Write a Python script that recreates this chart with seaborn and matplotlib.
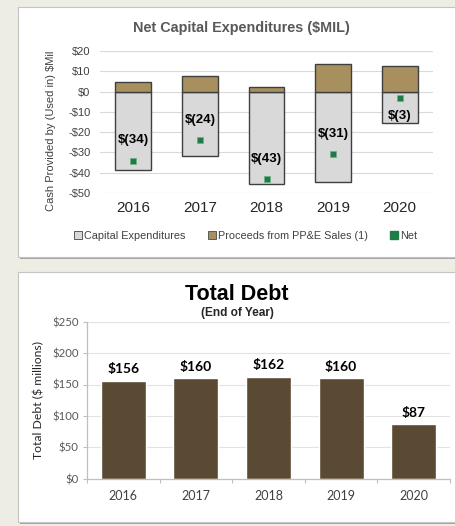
import matplotlib
matplotlib.use("Agg")
import matplotlib.pyplot as plt
from matplotlib.patches import Rectangle
from matplotlib.lines import Line2D
import seaborn as sns
import pandas as pd

# ---- data -------------------------------------------------------------
years = ["2016", "2017", "2018", "2019", "2020"]
capital_expenditures = [-38.5, -31.6, -45.4, -44.8, -15.4]
ppe_proceeds = [4.5, 7.6, 2.4, 13.8, 12.4]
net_capex = [-34, -24, -43, -31, -3]
capex_ticks = [20, 10, 0, -10, -20, -30, -40, -50]

total_debt = [156, 160, 162, 160, 87]
debt_ticks = [0, 50, 100, 150, 200, 250]

# ---- styling ----------------------------------------------------------
sns.set_style("white")
plt.rcParams["font.family"] = ["Liberation Sans", "DejaVu Sans"]
LATO = ["Lato", "DejaVu Sans"]

BG = "#EEEDE4"
CAPEX_FILL = "#D9D9D9"
PROCEEDS_FILL = "#A8905E"
EDGE = "#3F3F3F"
NET_GREEN = "#1E7D47"
DEBT_BROWN = "#5B4A33"
GRID = "#D9D9D9"

W, H = 455, 526
fig = plt.figure(figsize=(W / 100, H / 100), dpi=100, facecolor=BG)


def card(top_px, bottom_px):
    """White panel with a soft grey shadow, drawn in figure pixels."""
    x0 = 18 / W
    y0 = 1 - bottom_px / H
    h = (bottom_px - top_px) / H
    fig.patches.append(Rectangle((x0 + 1.5 / W, y0 - 2.0 / H), 1.2, h,
                                 transform=fig.transFigure, facecolor="#A5A5A5",
                                 edgecolor="none", zorder=-3))
    fig.patches.append(Rectangle((x0, y0), 1.2, h, transform=fig.transFigure,
                                 facecolor="white", edgecolor="#C4C4C4",
                                 linewidth=0.8, zorder=-2))


card(7, 257)
card(272, 522)


def money(v):
    return f"${v:.0f}" if v >= 0 else f"-${abs(v):.0f}"


# ---- top panel: net capital expenditures -----------------------------
ax1 = fig.add_axes([100 / W, 1 - 193 / H, 333 / W, 142 / H])
ax1.set_facecolor("none")

sns.barplot(x=years, y=capital_expenditures, color=CAPEX_FILL, saturation=1,
            edgecolor=EDGE, linewidth=1.0, width=0.54, ax=ax1, zorder=2)
sns.barplot(x=years, y=ppe_proceeds, color=PROCEEDS_FILL, saturation=1,
            edgecolor=EDGE, linewidth=1.0, width=0.54, ax=ax1, zorder=2)
sns.scatterplot(x=years, y=net_capex, marker="s", s=22, color=NET_GREEN,
                edgecolor="#6FAF84", linewidth=0.5, ax=ax1, zorder=4)

for i, v in enumerate(net_capex):
    ly = v + 10 if v < -15 else v - 9
    ax1.text(i, ly, f"$({abs(v)})", ha="center", va="center",
             fontsize=9.5, fontweight="bold", color="black", zorder=5)

ax1.set_xlim(-0.5, 4.5)
ax1.set_ylim(-50, 20)
ax1.set_yticks(capex_ticks)
ax1.set_yticklabels([money(t) for t in capex_ticks])
ax1.yaxis.grid(True, color=GRID, linewidth=0.8)
ax1.set_axisbelow(True)
for s in ax1.spines.values():
    s.set_visible(False)
ax1.tick_params(axis="y", length=0, pad=7, labelsize=8, labelcolor="#404040")
ax1.tick_params(axis="x", length=0, pad=6, labelsize=11, labelcolor="#262626")
ax1.set_xlabel("")
ax1.set_ylabel("Cash Provided by (Used in) $Mil", fontsize=8, color="#404040")
ax1.yaxis.set_label_coords(-44 / 333, 0.44)

fig.text(241 / W, 1 - 28 / H, "Net Capital Expenditures ($MIL)",
         ha="center", va="center", fontsize=10.4, fontweight="bold", color="#595959")

handles = [
    Line2D([], [], marker="s", linestyle="none", markersize=5.5,
           markerfacecolor=CAPEX_FILL, markeredgecolor="#5A5A5A", markeredgewidth=0.7),
    Line2D([], [], marker="s", linestyle="none", markersize=5.5,
           markerfacecolor=PROCEEDS_FILL, markeredgecolor="#5A5A5A", markeredgewidth=0.7),
    Line2D([], [], marker="s", linestyle="none", markersize=5.5,
           markerfacecolor=NET_GREEN, markeredgecolor=NET_GREEN),
]
fig.legend(handles, ["Capital Expenditures", "Proceeds from PP&E Sales (1)", "Net"],
           loc="center", bbox_to_anchor=(246 / W, 1 - 236 / H), ncol=3,
           frameon=False, fontsize=7.8, handlelength=0.6, handletextpad=0.2,
           columnspacing=2.2, labelcolor="#404040")

# ---- bottom panel: total debt ----------------------------------------
ax2 = fig.add_axes([87 / W, 1 - 478.7 / H, 363 / W, 157 / H])
ax2.set_facecolor("none")

sns.barplot(x=years, y=total_debt, color=DEBT_BROWN, saturation=1,
            width=0.62, ax=ax2, zorder=2)
for i, v in enumerate(total_debt):
    ax2.annotate(f"${v}", (i, v), xytext=(0, 4), textcoords="offset points",
                 ha="center", va="bottom", fontsize=10, fontweight="bold",
                 family=LATO, color="black")

ax2.set_xlim(-0.5, 4.5)
ax2.set_ylim(0, 250)
ax2.set_yticks(debt_ticks)
ax2.set_yticklabels([f"${t}" for t in debt_ticks], family=LATO)
ax2.set_xticks(range(len(years)))
ax2.set_xticklabels(years, family=LATO)
ax2.set_xticks([-0.5, 0.5, 1.5, 2.5, 3.5, 4.5], minor=True)
ax2.yaxis.grid(True, color="#E3E3E3", linewidth=0.8)
ax2.set_axisbelow(True)
for side in ("top", "right"):
    ax2.spines[side].set_visible(False)
for side in ("left", "bottom"):
    ax2.spines[side].set_color("#BFBFBF")
    ax2.spines[side].set_linewidth(0.9)
ax2.tick_params(axis="y", which="major", direction="out", length=3, width=0.8,
                color="#BFBFBF", pad=3, labelsize=8.2, labelcolor="#595959", left=True)
ax2.tick_params(axis="x", which="major", length=0, pad=8, labelsize=9,
                labelcolor="#404040")
ax2.tick_params(axis="x", which="minor", direction="out", length=3, width=0.8,
                color="#BFBFBF", bottom=True)
ax2.set_xlabel("")
ax2.set_ylabel("Total Debt ($ millions)", fontsize=8.8, color="#262626", family=LATO)
ax2.yaxis.set_label_coords(-43 / 363, 0.5)

fig.text(237 / W, 1 - 295 / H, "Total Debt", ha="center", va="center",
         fontsize=15.5, fontweight="bold", color="black")
fig.text(237 / W, 1 - 313 / H, "(End of Year)", ha="center", va="center",
         fontsize=8.6, fontweight="bold", color="#262626")

fig.savefig("out.png", dpi=100, facecolor=BG)
